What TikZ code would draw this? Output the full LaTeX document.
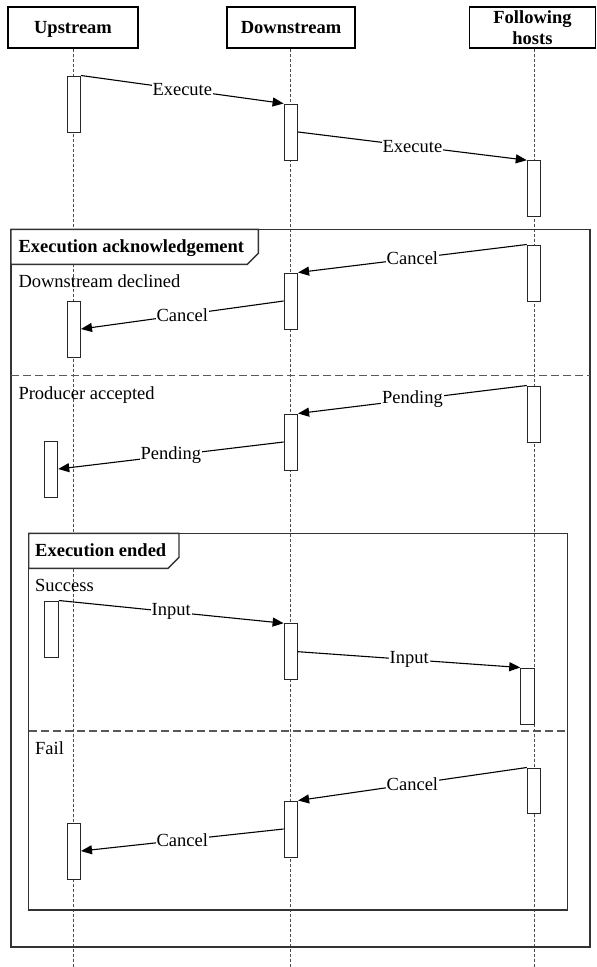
\documentclass[tikz,border=0pt]{standalone}
\usepackage{fontspec}
\setmainfont{Liberation Serif}
\usetikzlibrary{arrows.meta}
\begin{document}
\begin{tikzpicture}[x=1pt,y=-1pt,
  every node/.style={font=\fontsize{18.5}{21.5}\selectfont},
  header/.style={draw=black, line width=1.1pt, inner sep=0, minimum height=41pt,
    font=\fontsize{18.5}{21.5}\selectfont\bfseries, align=center},
  lifeline/.style={draw=black!70, line width=0.9pt, dash pattern=on 3pt off 2pt},
  act/.style={draw=black!85, line width=1pt, fill=white, inner sep=0,
    minimum width=13.5pt, minimum height=56pt},
  msg/.style={draw=black, line width=1.1pt, -{Triangle[length=11pt,width=9pt]}},
  lbl/.style={fill=white, inner sep=1pt},
  frame/.style={draw=black!80, line width=1.4pt},
  divider/.style={draw=black!65, line width=1.6pt, dash pattern=on 8pt off 4pt},
  caption/.style={anchor=base west, inner sep=0},
  tagtext/.style={anchor=base west, inner sep=0,
    font=\fontsize{18.5}{21.5}\selectfont\bfseries}]
\useasboundingbox (0,0) rectangle (597,967);

% participants
\node[header, minimum width=130pt, text depth=0pt] (up) at (73,27.5) {Upstream};
\node[header, minimum width=128pt, text depth=0pt] (down) at (291,27.5) {Downstream};
\node[header, minimum width=126pt] (foll) at (532.5,27.5) {Following\\hosts};

% lifelines
\coordinate (uend) at (73.7,967);
\coordinate (dend) at (290.9,967);
\coordinate (fend) at (534,967);
\draw[lifeline] (up.south -| uend) -- (uend);
\draw[lifeline] (down.south -| dend) -- (dend);
\draw[lifeline] (foll.south -| fend) -- (fend);

% combined fragments
\draw[frame] (11,229.3) rectangle (590,947);
\draw[divider] (11,375.6) -- (590,375.6);
\draw[frame] (28.7,533.3) rectangle (567.7,910);
\draw[divider] (28.7,731) -- (567.7,731);
\draw[frame, fill=white] (11,229.3) -- (258.3,229.3) -- (258.3,253.3)
  -- (247.3,264.3) -- (11,264.3) -- cycle;
\draw[frame, fill=white] (28.7,533.3) -- (179,533.3) -- (179,557.3)
  -- (168,568.3) -- (28.7,568.3) -- cycle;
\node[tagtext] (tag1) at (18.3,252.8) {Execution acknowledgement};
\node[tagtext] (tag2) at (35,556) {Execution ended};
\node[caption] (c1) at (18.3,287.8) {Downstream declined};
\node[caption] (c2) at (18.3,399) {Producer accepted};
\node[caption] (c3) at (35,591) {Success};
\node[caption] (c4) at (35,754) {Fail};

% activations
\node[act] (u1) at (73.75,104) {};
\node[act] (d1) at (290.85,132) {};
\node[act] (f1) at (534,188.7) {};
\node[act] (f2) at (534,273) {};
\node[act] (d2) at (290.85,301) {};
\node[act] (u2) at (73.75,329) {};
\node[act] (f3) at (534,414) {};
\node[act] (d3) at (290.85,442) {};
\node[act] (u3) at (51,469) {};
\node[act] (u4) at (51.6,629) {};
\node[act] (d4) at (290.85,651.7) {};
\node[act] (f4) at (527.5,696) {};
\node[act, minimum height=45pt] (f5) at (534,790.5) {};
\node[act] (d5) at (290.85,829) {};
\node[act] (u5) at (73.75,851) {};

% messages
\draw[msg] (u1.north east) -- node[lbl] {Execute} (d1.north west);
\draw[msg] (d1.east) -- node[lbl] {Execute} (f1.north west);
\draw[msg] (f2.north west) -- node[lbl] {Cancel} (d2.north east);
\draw[msg] (d2.west) -- node[lbl] {Cancel} (u2.east);
\draw[msg] (f3.north west) -- node[lbl] {Pending} (d3.north east);
\draw[msg] (d3.west) -- node[lbl] {Pending} (u3.east);
\draw[msg] (u4.north east) -- node[lbl] {Input} (d4.north west);
\draw[msg] (d4.east) -- node[lbl] {Input} (f4.north west);
\draw[msg] (f5.north west) -- node[lbl] {Cancel} (d5.north east);
\draw[msg] (d5.west) -- node[lbl] {Cancel} (u5.east);
\end{tikzpicture}
\end{document}
